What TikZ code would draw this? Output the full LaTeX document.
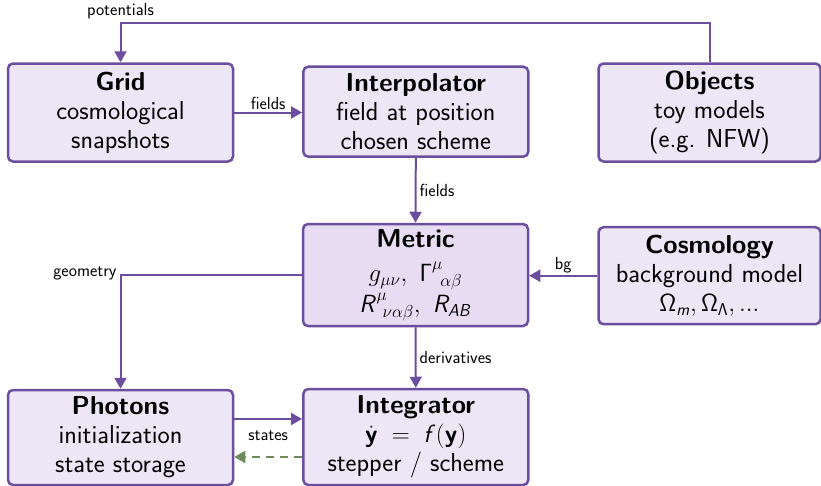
\documentclass[tikz,border=0pt]{standalone}
\renewcommand{\familydefault}{\sfdefault}
\usetikzlibrary{arrows.meta,calc}
% sans-serif math alphabets
\DeclareMathAlphabet{\mathsfit}{OT1}{cmss}{m}{sl}
\DeclareMathAlphabet{\mathsfup}{OT1}{cmss}{m}{n}
\DeclareMathAlphabet{\mathsfbf}{OT1}{cmss}{bx}{n}

\definecolor{pborder}{HTML}{6B4F9E}
\definecolor{pfill}{HTML}{EDE6F7}
\definecolor{pfilldark}{HTML}{E7DCF2}
\definecolor{pline}{HTML}{6B4F9E}
\definecolor{fback}{HTML}{6E8B5A}

\tikzset{
  box/.style={draw=pborder, line width=2.5pt, fill=pfill, rounded corners=5pt,
    align=center, inner sep=0pt,
    font=\fontsize{26}{29}\selectfont\sffamily},
  arr/.style={draw=pline, line width=2pt,
    -{Triangle[length=11pt,width=12pt]}},
  backarr/.style={draw=fback, line width=2pt, dash pattern=on 8pt off 6pt,
    -{Triangle[length=11pt,width=12pt]}},
  lbl/.style={font=\fontsize{17.5}{20}\selectfont\sffamily, text=black, inner sep=2pt},
}

\begin{document}
\begin{tikzpicture}[x=1pt,y=-1pt]
\useasboundingbox (0,0) rectangle (821,485);

% components
\node[box, minimum width=225pt, minimum height=98pt] (grid) at (120.5,112.5)
  {\textbf{Grid}\\cosmological\\snapshots};
\node[box, minimum width=225pt, minimum height=90pt] (interp) at (415.8,111.7)
  {\textbf{Interpolator}\\field at position\\chosen scheme};
\node[box, minimum width=222pt, minimum height=98pt] (objects) at (709.5,112.5)
  {\textbf{Objects}\\toy models\\(e.g. NFW)};
\node[box, fill=pfilldark, minimum width=225pt, minimum height=102pt] (metric) at (415.5,275)
  {\textbf{Metric}\\[5pt]
   $g_{\mu\nu},\ \mathsfup{\Gamma}^{\mu}_{\ \alpha\beta}$\\[2pt]
   $\mathsfit{R}^{\mu}_{\ \nu\alpha\beta},\ \mathsfit{R}_{\mathsfit{AB}}$};
\node[box, minimum width=222pt, minimum height=97pt] (cosmo) at (709.5,275.7)
  {\textbf{Cosmology}\\background model\\
   $\mathsfup{\Omega}_{\mathsfit{m}}, \mathsfup{\Omega}_{\mathsfup{\Lambda}}, \mathsfup{...}$};
\node[box, minimum width=225pt, minimum height=95pt] (photons) at (120.5,437.5)
  {\textbf{Photons}\\initialization\\state storage};
\node[box, minimum width=225pt, minimum height=96pt] (integ) at (415.8,437)
  {\textbf{Integrator}\\
   $\dot{\mathsfbf{y}}\;=\;\mathsfit{f}(\mathsfbf{y})$\\
   stepper / scheme};

% data flow
\draw[arr] (objects.north) -- ++(0,-39.5) -| (grid.north)
  node[pos=0.5, lbl, above=1pt] {potentials};
\draw[arr] (grid.east) -- (grid.east -| interp.west)
  node[midway, lbl, above=0pt] {fields};
\draw[arr] (interp.south) -- (metric.north)
  node[midway, lbl, right=1pt] {fields};
\draw[arr] (cosmo.west) -- (cosmo.west -| metric.east)
  node[midway, lbl, above=0pt] {bg};
\draw[arr] (metric.west) -| (photons.north)
  node[pos=0.5, lbl, left=1pt, yshift=2pt] {geometry};
\draw[arr] (metric.south) -- (integ.north)
  node[midway, lbl, right=1pt] {derivatives};
\draw[arr] ([yshift=18.5pt]photons.east) -- ([yshift=18.5pt]photons.east -| integ.west)
  node[midway, lbl, below=9pt] {states};
\draw[backarr] ([yshift=-19.5pt]photons.east -| integ.west) -- ([yshift=-19.5pt]photons.east);
\end{tikzpicture}
\end{document}
